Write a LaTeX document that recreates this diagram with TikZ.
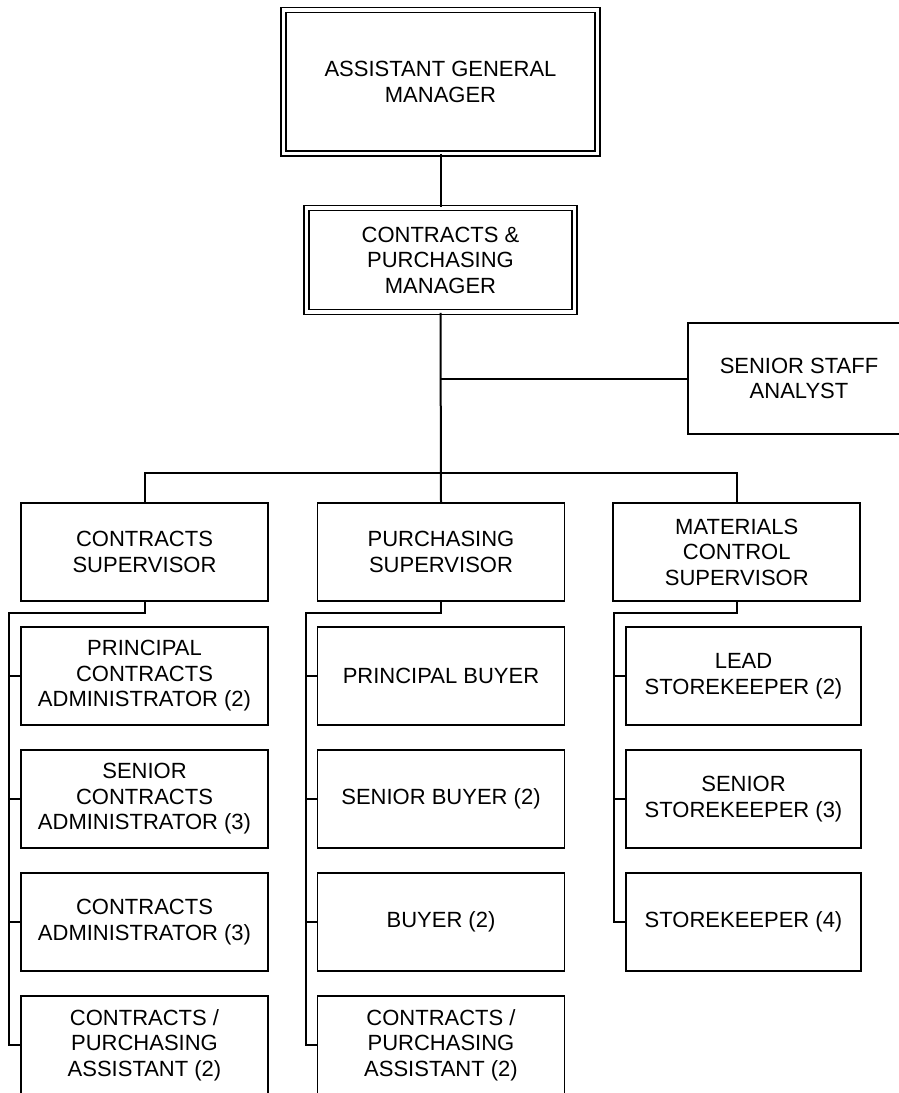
\documentclass[tikz,border=0pt]{standalone}
\usepackage{fontspec}
\setmainfont{Liberation Sans}
\begin{document}
\begin{tikzpicture}[x=1pt,y=-1pt,
  every node/.style={font=\fontsize{22}{25.5}\selectfont, align=center, inner sep=0pt},
  box/.style={draw, line width=1.8pt, minimum width=247pt, minimum height=98pt},
  kidbox/.style={box},
  narrowbox/.style={box, minimum width=235pt},
  dbox/.style={draw, double, double distance=3.4pt, line width=1.5pt},
  conn/.style={line width=2pt}]
\useasboundingbox (0,0) rectangle (899,1093);
% top
\node[dbox, minimum width=314pt, minimum height=143.5pt] (agm) at (440.5,81.75) {ASSISTANT GENERAL\\MANAGER};
\node[dbox, minimum width=268pt, minimum height=104pt] (cpm) at (440.5,260) {CONTRACTS \&\\PURCHASING\\MANAGER};
\node[box, minimum width=222pt, minimum height=111pt] (ssa) at (799,378.5) {SENIOR STAFF\\ANALYST};
% supervisors
\node[box] (s1) at (144.5,552) {CONTRACTS\\SUPERVISOR};
\node[box] (s2) at (441,552) {PURCHASING\\SUPERVISOR};
\node[box] (s3) at (736.75,552) {MATERIALS\\CONTROL\\SUPERVISOR};
% column 1
\node[kidbox] (c11) at (144.5,676) {PRINCIPAL\\CONTRACTS\\ADMINISTRATOR (2)};
\node[kidbox] (c12) at (144.5,799) {SENIOR\\CONTRACTS\\ADMINISTRATOR (3)};
\node[kidbox] (c13) at (144.5,922) {CONTRACTS\\ADMINISTRATOR (3)};
\node[kidbox] (c14) at (144.5,1045) {CONTRACTS /\\PURCHASING\\ASSISTANT (2)};
% column 2
\node[kidbox] (c21) at (441,676) {PRINCIPAL BUYER};
\node[kidbox] (c22) at (441,799) {SENIOR BUYER (2)};
\node[kidbox] (c23) at (441,922) {BUYER (2)};
\node[kidbox] (c24) at (441,1045) {CONTRACTS /\\PURCHASING\\ASSISTANT (2)};
% column 3
\node[narrowbox] (c31) at (743.5,676) {LEAD\\STOREKEEPER (2)};
\node[narrowbox] (c32) at (743.5,799) {SENIOR\\STOREKEEPER (3)};
\node[narrowbox] (c33) at (743.5,922) {STOREKEEPER (4)};
% connectors
\coordinate (bus) at (441,473);
\coordinate (v1) at (9,613);
\coordinate (v2) at (305.5,613);
\coordinate (v3) at (614,613);
\draw[conn] (agm.south) -- (cpm.north);
\draw[conn] (cpm.south) -- (s2.north);
\draw[conn] (cpm.south |- ssa.west) -- (ssa.west);
\draw[conn] (s1.north) |- (bus) -| (s3.north);
\draw[conn] (s1.south) |- (v1) |- (c14.west);
\draw[conn] (s2.south) |- (v2) |- (c24.west);
\draw[conn] (s3.south) |- (v3) |- (c33.west);
\foreach \k in {c11,c12,c13} \draw[conn] (v1 |- \k.west) -- (\k.west);
\foreach \k in {c21,c22,c23} \draw[conn] (v2 |- \k.west) -- (\k.west);
\foreach \k in {c31,c32} \draw[conn] (v3 |- \k.west) -- (\k.west);
\end{tikzpicture}
\end{document}
